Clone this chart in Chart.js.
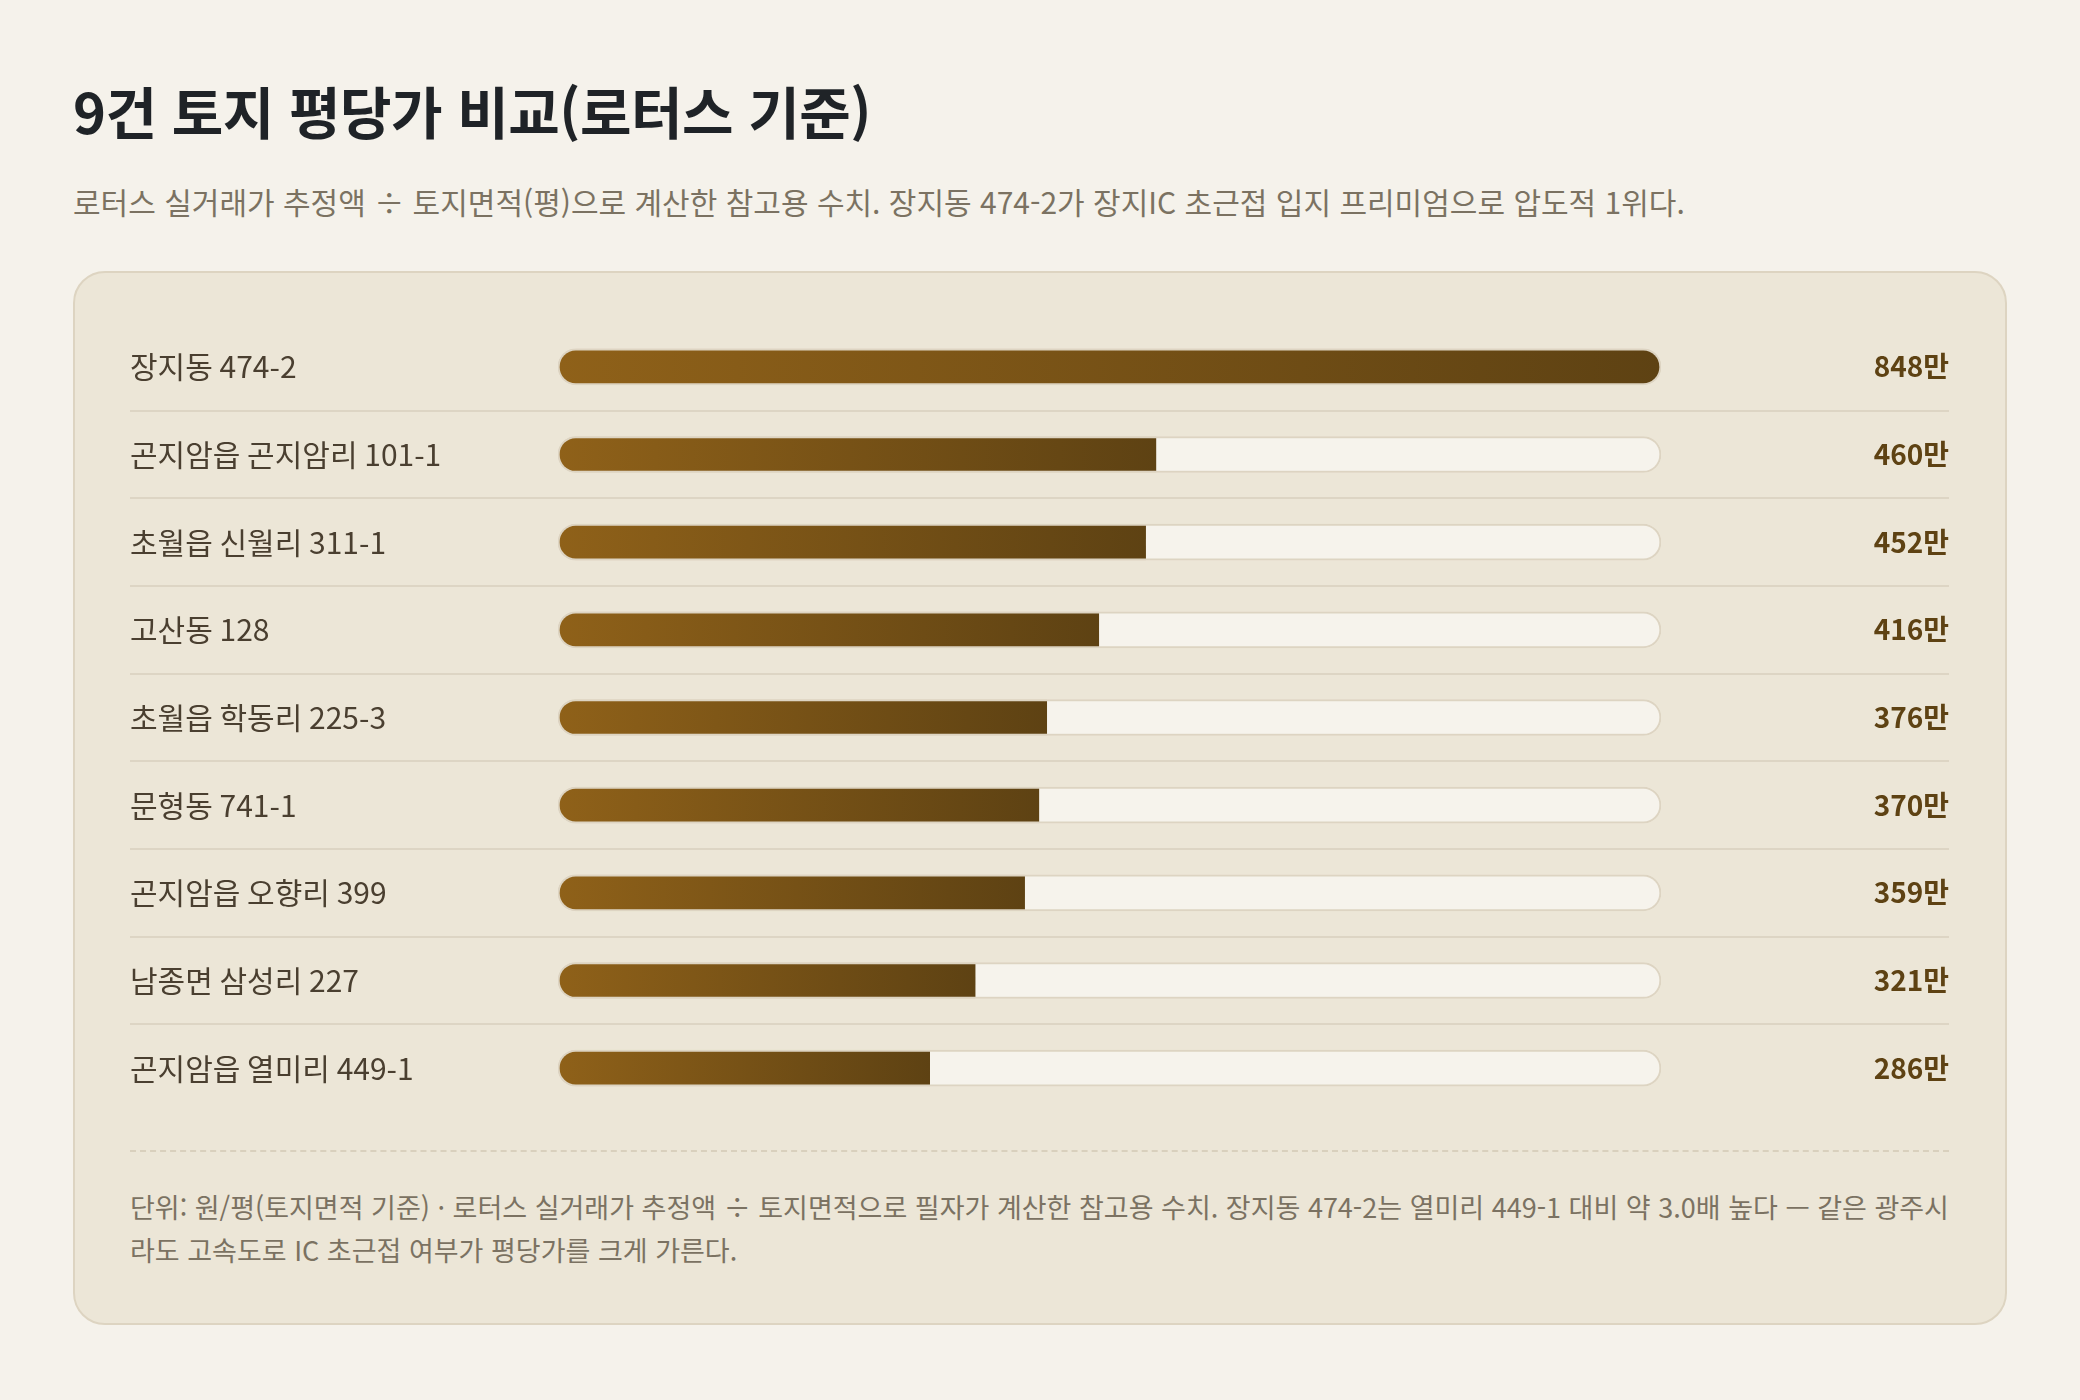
<!DOCTYPE html>
<html lang="ko">
<head>
<meta charset="utf-8">
<title>9건 토지 평당가 비교</title>
<script src="https://cdn.jsdelivr.net/npm/chart.js@4.4.1/dist/chart.umd.min.js"></script>
<style>
  html, body { margin: 0; padding: 0; }
  body {
    width: 2080px; height: 1400px;
    background: #f5f2eb;
    font-family: "Noto Sans CJK KR", "Noto Sans", sans-serif;
    position: relative;
    overflow: hidden;
  }
  h1 {
    position: absolute; left: 73px; top: 77px; margin: 0;
    font-size: 56px; line-height: 66px; font-weight: 700;
    color: #1f2327; letter-spacing: -0.5px;
  }
  .sub {
    position: absolute; left: 73px; top: 181px; margin: 0;
    font-size: 30px; line-height: 40px; color: #7b7262;
  }
  .card {
    position: absolute; left: 73px; top: 271px;
    width: 1930px; height: 1050px;
    background: #ece6d7; border: 2px solid #ddd4c1; border-radius: 32px;
  }
  .plot {
    position: absolute; left: 130px; top: 302px; width: 1819px; height: 831px;
  }
  .dash {
    position: absolute; left: 130px; top: 1150px; width: 1819px; height: 0;
    border-top: 2px dashed #d9d0bd;
  }
  .note {
    position: absolute; left: 130px; top: 1185px; width: 1840px; margin: 0;
    font-size: 27px; line-height: 43px; color: #7b7262;
  }
</style>
</head>
<body>
<h1>9건 토지 평당가 비교(로터스 기준)</h1>
<p class="sub">로터스 실거래가 추정액 ÷ 토지면적(평)으로 계산한 참고용 수치. 장지동 474-2가 장지IC 초근접 입지 프리미엄으로 압도적 1위다.</p>
<div class="card"></div>
<div class="plot"><canvas id="landChart"></canvas></div>
<div class="dash"></div>
<p class="note">단위: 원/평(토지면적 기준) · 로터스 실거래가 추정액 ÷ 토지면적으로 필자가 계산한 참고용 수치. 장지동 474-2는 열미리 449-1 대비 약 3.0배 높다 — 같은 광주시<br>라도 고속도로 IC 초근접 여부가 평당가를 크게 가른다.</p>

<script>
// 평당가 (만원/평)
const parcels = [
  "장지동 474-2",
  "곤지암읍 곤지암리 101-1",
  "초월읍 신월리 311-1",
  "고산동 128",
  "초월읍 학동리 225-3",
  "문형동 741-1",
  "곤지암읍 오향리 399",
  "남종면 삼성리 227",
  "곤지암읍 열미리 449-1"
];
const pricePerPyeong = [848, 460, 452, 416, 376, 370, 359, 321, 286];
const valueLabels = pricePerPyeong.map(v => v + "만");

const maxValue = Math.max(...pricePerPyeong);
const trackValues = parcels.map(() => maxValue);

const FONT = '"Noto Sans CJK KR", "Noto Sans", sans-serif';
const BORDER = "#ddd4c2";

// row separators drawn across labels + bars + values
const rowLines = {
  id: "rowLines",
  beforeDatasetsDraw(chart) {
    const y = chart.scales.y;
    const left = chart.scales.y.left;
    const right = chart.scales.y2.right;
    const ctx = chart.ctx;
    ctx.save();
    ctx.strokeStyle = "#ddd5c4";
    ctx.lineWidth = 2;
    for (let i = 0; i < parcels.length - 1; i++) {
      const py = Math.round((y.getPixelForValue(i) + y.getPixelForValue(i + 1)) / 2);
      ctx.beginPath();
      ctx.moveTo(left, py);
      ctx.lineTo(right, py);
      ctx.stroke();
    }
    ctx.restore();
  }
};

function barGradient(context) {
  const chart = context.chart;
  if (!chart.chartArea) return "#7a5418";
  const v = context.raw;
  const x = chart.scales.x;
  const x0 = x.getPixelForValue(0);
  const x1 = x.getPixelForValue(v);
  const g = chart.ctx.createLinearGradient(x0, 0, x1, 0);
  g.addColorStop(0, "#8f6119");
  g.addColorStop(1, "#5e4213");
  return g;
}

const ctx = document.getElementById("landChart").getContext("2d");
let chart = new Chart(ctx, {
  type: "bar",
  data: {
    labels: parcels,
    datasets: [
      {
        label: "평당가",
        data: pricePerPyeong,
        order: 0,
        grouped: false,
        barThickness: 36,
        backgroundColor: barGradient,
        borderColor: BORDER,
        borderWidth: c => c.raw >= maxValue
          ? 2
          : { top: 2, bottom: 2, left: 2, right: 0 },
        borderRadius: c => c.raw >= maxValue
          ? 18
          : { topLeft: 18, bottomLeft: 18, topRight: 0, bottomRight: 0 },
        borderSkipped: false
      },
      {
        label: "track",
        data: trackValues,
        order: 1,
        grouped: false,
        barThickness: 36,
        backgroundColor: "#f6f3ec",
        borderColor: BORDER,
        borderWidth: 2,
        borderRadius: 18,
        borderSkipped: false
      }
    ]
  },
  options: {
    indexAxis: "y",
    responsive: true,
    maintainAspectRatio: false,
    animation: false,
    layout: { padding: 0 },
    plugins: {
      legend: { display: false },
      tooltip: { enabled: false }
    },
    scales: {
      x: {
        display: false,
        min: 0,
        max: maxValue
      },
      y: {
        position: "left",
        grid: { display: false },
        border: { display: false },
        afterFit: s => { s.width = 428; },
        ticks: {
          autoSkip: false,
          crossAlign: "far",
          color: "#4a3f30",
          font: { family: FONT, size: 30 }
        }
      },
      y2: {
        type: "category",
        position: "right",
        labels: valueLabels,
        offset: true,
        grid: { display: false },
        border: { display: false },
        afterFit: s => { s.width = 288; },
        ticks: {
          autoSkip: false,
          crossAlign: "far",
          color: "#5e4213",
          font: { family: FONT, size: 28, weight: 700 }
        }
      }
    }
  },
  plugins: [rowLines]
});
</script>
</body>
</html>
